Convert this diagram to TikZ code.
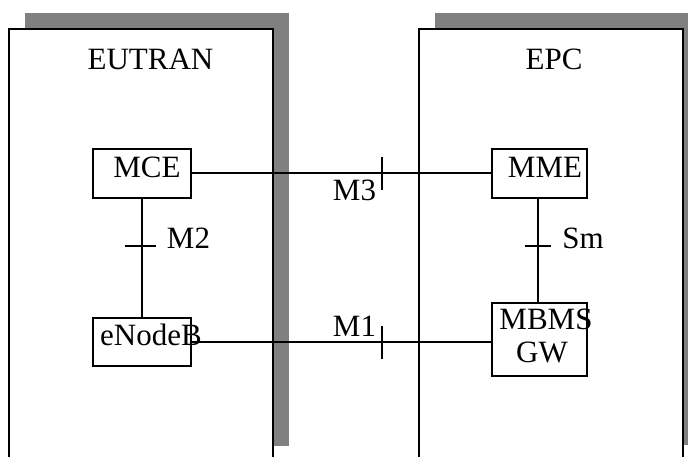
\documentclass[tikz,border=0pt]{standalone}
\usepackage{fontspec}
\setmainfont{Liberation Serif}
\begin{document}
\begin{tikzpicture}[x=1bp,y=-1bp,
  shadowbox/.style={fill=black!50,draw=none},
  domainbox/.style={fill=white,draw=black,line width=1.6bp},
  elem/.style={draw=black,line width=1.2bp,fill=white,rectangle,inner sep=0pt},
  txt/.style={anchor=base,inner sep=0pt,font=\fontsize{31bp}{35bp}\selectfont},
  conn/.style={draw=black,line width=1.3bp},
  tick/.style={draw=black,line width=1.2bp}]
\useasboundingbox (0,0) rectangle (688,457);
\clip (0,0) rectangle (688,457);
% shadows
\fill[shadowbox] (25,13) rectangle (289,446);
\fill[shadowbox] (435,13) rectangle (688,445);
% domain boxes
\path[domainbox] (9,29) rectangle (273,470);
\path[domainbox] (419,29) rectangle (683,470);
\node[txt] (eutran) at (150.5,70) {EUTRAN};
\node[txt] (epc) at (554,70) {EPC};
% element boxes
\node[elem,minimum width=98bp,minimum height=49bp] (mce) at (142,173.5) {};
\node[elem,minimum width=98bp,minimum height=48bp] (enb) at (142,342) {};
\node[elem,minimum width=95bp,minimum height=49bp] (mme) at (539.5,173.5) {};
\node[elem,minimum width=95bp,minimum height=73bp] (mbms) at (539.5,339.5) {};
% connectors
\coordinate (m3t) at (382,173);
\coordinate (m1t) at (382,342);
\coordinate (m2t) at (142,246);
\coordinate (smt) at (538,246);
\draw[conn] (mce.east |- m3t) -- (mme.west |- m3t);
\draw[conn] (enb.east |- m1t) -- (mbms.west |- m1t);
\draw[conn] (mce.south) -- (enb.north);
\draw[conn] (mme.south -| smt) -- (mbms.north -| smt);
% ticks
\draw[tick] ([yshift=-17bp]m3t) -- ([yshift=16bp]m3t);
\draw[tick] ([yshift=-17bp]m1t) -- ([yshift=16bp]m1t);
\draw[tick] ([xshift=-17bp]m2t) -- ([xshift=14bp]m2t);
\draw[tick] ([xshift=-13bp]smt) -- ([xshift=13bp]smt);
% texts
\node[txt] (mcet) at (147,178) {MCE};
\node[txt] (mmet) at (545,178) {MME};
\node[txt] (enbt) at (151,345) {eNodeB};
\node[txt] (mbmst) at (546,330) {MBMS};
\node[txt] (gwt) at (542,362) {GW};
\node[txt] (m3l) at (354.5,201) {M3};
\node[txt] (m1l) at (354.5,337) {M1};
\node[txt] (m2l) at (188.5,249) {M2};
\node[txt] (sml) at (583,249) {Sm};
\end{tikzpicture}
\end{document}
